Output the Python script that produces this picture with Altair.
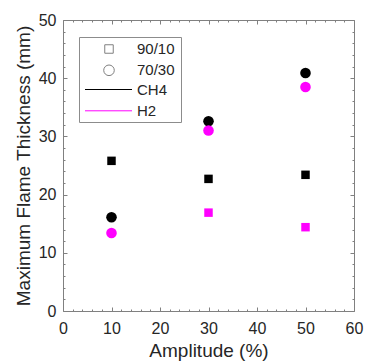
import altair as alt
import pandas as pd

# ---- data ----
amplitude = [10, 30, 50]
ch4_90_10 = [25.8, 22.7, 23.4]
ch4_70_30 = [16.1, 32.6, 40.9]
h2_70_30 = [13.4, 31.0, 38.5]
h2_90_10 = [None, 16.9, 14.4]

ratios = ["90/10", "70/30"]
fuels = ["CH4", "H2"]
x_ticks = [0, 10, 20, 30, 40, 50, 60]
y_ticks = [0, 10, 20, 30, 40, 50]
x_minor = list(range(0, 61, 2))
y_minor = list(range(0, 51, 2))

series = [
    ("90/10", "CH4", ch4_90_10),
    ("70/30", "CH4", ch4_70_30),
    ("70/30", "H2", h2_70_30),
    ("90/10", "H2", h2_90_10),
]
rows = []
for r, f, vals in series:
    for a, v in zip(amplitude, vals):
        if v is not None:
            rows.append({"amp": a, "thick": v, "ratio": r, "fuel": f, "id": f"{r}-{f}-{a}"})
df = pd.DataFrame(rows)

# ---- styling ----
W, H = 291, 291
FONT = "Liberation Sans"
TXT = "#262626"
FRAME = "#808080"
LEGBOX = "#8c8c8c"
fuel_colors = ["#000000", "#ff00ff"]

xscale = alt.Scale(domain=[0, 60], nice=False, zero=False)
yscale = alt.Scale(domain=[0, 50], nice=False, zero=False)
tick_size = {"condition": {"test": "datum.value % 10 === 0", "value": 4}, "value": 2}

# main axes (labels + bottom/left frame)
axA_x = alt.Axis(orient="bottom", values=x_ticks, ticks=False, tickSize=0, labelPadding=9,
                 labelFontSize=16, labelColor=TXT, labelFont=FONT, labelFlush=False,
                 title="Amplitude (%)", titleFontSize=19, titleFontWeight="normal",
                 titleColor=TXT, titleFont=FONT, titlePadding=5,
                 domainColor=FRAME, domainWidth=1, grid=False)
axA_y = alt.Axis(orient="left", values=y_ticks, ticks=False, tickSize=0, labelPadding=7,
                 labelFontSize=16, labelColor=TXT, labelFont=FONT,
                 title="Maximum Flame Thickness (mm)", titleFontSize=19, titleFontWeight="normal",
                 titleColor=TXT, titleFont=FONT, titlePadding=5,
                 domainColor=FRAME, domainWidth=1, grid=False)
# inward ticks on bottom / left edges
axB_x = alt.Axis(orient="top", offset=-H, values=x_minor, labels=False, domain=False,
                 ticks=True, tickSize=tick_size, tickColor=FRAME, tickWidth=1, title=None, grid=False)
axB_y = alt.Axis(orient="right", offset=-W, values=y_minor, labels=False, domain=False,
                 ticks=True, tickSize=tick_size, tickColor=FRAME, tickWidth=1, title=None, grid=False)
# inward ticks + frame on top / right edges
axC_x = alt.Axis(orient="bottom", offset=-H, values=x_minor, labels=False, domain=True,
                 domainColor=FRAME, domainWidth=1,
                 ticks=True, tickSize=tick_size, tickColor=FRAME, tickWidth=1, title=None, grid=False)
axC_y = alt.Axis(orient="left", offset=-W, values=y_minor, labels=False, domain=True,
                 domainColor=FRAME, domainWidth=1,
                 ticks=True, tickSize=tick_size, tickColor=FRAME, tickWidth=1, title=None, grid=False)

legS = alt.Legend(title=None, orient="none", legendX=38.5, legendY=21.5, direction="vertical",
                  padding=0, clipHeight=15, rowPadding=5.3, labelOffset=20.5,
                  labelFont=FONT, labelFontSize=15, labelColor=TXT,
                  symbolFillColor="transparent", symbolStrokeColor=FRAME, symbolStrokeWidth=1)
legC = alt.Legend(title=None, orient="none", legendX=21.5, legendY=62, direction="vertical",
                  padding=0, clipHeight=15, rowPadding=5.3, labelOffset=4.5,
                  labelFont=FONT, labelFontSize=15, labelColor=TXT,
                  symbolType="stroke", symbolSize=2209, symbolStrokeWidth=1)

shape_enc = alt.Shape("ratio:N", scale=alt.Scale(domain=ratios, range=["square", "circle"]), legend=legS)
size_enc = alt.Size("ratio:N", scale=alt.Scale(type="ordinal", domain=ratios, range=[72, 112]), legend=legS)
fill_enc = alt.Fill("fuel:N", scale=alt.Scale(domain=fuels, range=fuel_colors), legend=None)

box = alt.Chart(pd.DataFrame({"k": [0]})).mark_rect(
    fill="white", stroke=LEGBOX, strokeWidth=1
).encode(x=alt.value(16.5), x2=alt.value(118.5), y=alt.value(17.5), y2=alt.value(102.5))

lines = alt.Chart(df).mark_line(strokeWidth=1).encode(
    x=alt.X("amp:Q", scale=xscale, axis=axB_x),
    y=alt.Y("thick:Q", scale=yscale, axis=axB_y),
    color=alt.Color("fuel:N", scale=alt.Scale(domain=fuels, range=fuel_colors), legend=legC),
    detail="id:N",
)

squares = alt.Chart(df).transform_filter(alt.datum.ratio == "90/10").mark_point(
    filled=True, opacity=1
).encode(
    x=alt.X("amp:Q", scale=xscale, axis=axA_x),
    y=alt.Y("thick:Q", scale=yscale, axis=axA_y),
    fill=fill_enc, shape=shape_enc, size=size_enc,
)

circles = alt.Chart(df).transform_filter(alt.datum.ratio == "70/30").mark_point(
    filled=True, opacity=1
).encode(
    x=alt.X("amp:Q", scale=xscale, axis=axC_x),
    y=alt.Y("thick:Q", scale=yscale, axis=axC_y),
    fill=fill_enc, shape=shape_enc, size=size_enc,
)

chart = alt.layer(box, lines, squares, circles).resolve_axis(
    x="independent", y="independent"
).properties(
    width=W, height=H,
    padding={"left": 63, "top": 20, "right": 11, "bottom": 50},
    autosize=alt.AutoSizeParams(type="none"),
    background="white",
).configure(font=FONT).configure_view(strokeWidth=0)

chart.save("out.html", embed_options={"renderer": "svg", "actions": False})
